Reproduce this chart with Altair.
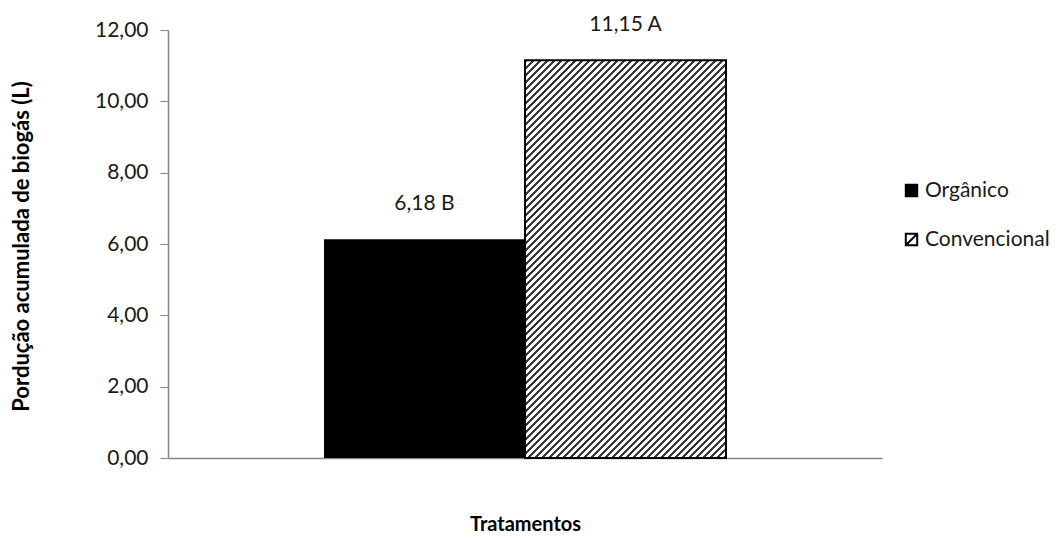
import altair as alt
import pandas as pd

# ---- data ----
grupo = "Tratamentos"
tratamentos = ["Orgânico", "Convencional"]
valores = [6.13, 11.15]
rotulos = ["6,18 B", "11,15 A"]
y_ticks = [0, 2, 4, 6, 8, 10, 12]

df = pd.DataFrame({
    "grupo": [grupo] * len(tratamentos),
    "trat": tratamentos,
    "valor": valores,
    "rotulo": rotulos,
})

# ---- layout ----
W, H = 714, 428
Y_MAX = 12
PAD_OUTER = 0.388
FONT = "Lato"
AXIS_COLOR = "#868686"
TEXT_COLOR = "#1a1a1a"

# hatch (diagonal "/" stripes) as a hard-stop linear gradient
step = W / (1 + 2 * PAD_OUTER)
bar_w = step / len(tratamentos)
bar_h = valores[1] * H / Y_MAX
k = (bar_w + bar_h) / (bar_w ** 2 + bar_h ** 2)
period = 7.0
n_per = (bar_w + bar_h) / period
frac = 0.42
stops = []
i = 0
while i < n_per:
    a = i / n_per
    b = min((i + frac) / n_per, 1)
    c = min((i + 1) / n_per, 1)
    stops += [
        {"offset": a, "color": "#3a3a3a"},
        {"offset": b, "color": "#3a3a3a"},
        {"offset": b, "color": "#ffffff"},
        {"offset": c, "color": "#ffffff"},
    ]
    i += 1
hatch = {"gradient": "linear", "x1": 0, "y1": 0, "x2": k * bar_w, "y2": k * bar_h, "stops": stops}

base = alt.Chart(df).encode(
    x=alt.X(
        "grupo:N",
        scale=alt.Scale(paddingOuter=PAD_OUTER, paddingInner=0),
        axis=alt.Axis(
            title="Tratamentos", labels=False, ticks=False, domainColor=AXIS_COLOR,
            domainWidth=1.5, titleFont=FONT, titleFontSize=20, titleFontWeight="bold",
            titleColor="black", titleBaseline="middle", titleY=66,
        ),
    ),
    xOffset=alt.XOffset("trat:N", sort=tratamentos,
                        scale=alt.Scale(domain=tratamentos, paddingInner=0, paddingOuter=0)),
    y=alt.Y(
        "valor:Q",
        scale=alt.Scale(domain=[0, Y_MAX], nice=False),
        axis=alt.Axis(
            values=y_ticks, grid=False,
            labelExpr="replace(format(datum.value, '.2f'), '.', ',')",
            labelFont=FONT, labelFontSize=21, labelColor=TEXT_COLOR, labelPadding=12,
            tickSize=8, tickColor=AXIS_COLOR, domainColor=AXIS_COLOR, domainWidth=1.5,
            title="Pordução acumulada de biogás (L)", titleFont=FONT, titleFontSize=22,
            titleFontWeight="bold", titleColor="black", titleX=-147, titleY=H / 2 + 2,
            titleBaseline="middle", titleAngle=-90,
        ),
    ),
)

org = base.transform_filter(alt.datum.trat == tratamentos[0]).mark_bar(color="black")
conv = base.transform_filter(alt.datum.trat == tratamentos[1]).mark_bar(
    fill=hatch, stroke="black", strokeWidth=2
)
txt = base.mark_text(baseline="bottom", dy=-25, font=FONT, fontSize=21, color=TEXT_COLOR).encode(
    text="rotulo:N"
)

leg = dict(
    title=None, orient="none", legendX=733, legendY=150, symbolSize=130,
    labelFont=FONT, labelFontSize=21, labelColor=TEXT_COLOR, rowPadding=27,
    symbolStrokeColor="black", symbolStrokeWidth=2, labelOffset=3, padding=0,
)
legend_layer = alt.Chart(df).transform_filter("false").mark_point(
    filled=True, strokeWidth=2, opacity=1
).encode(
    fill=alt.Fill("trat:N", sort=tratamentos,
                  scale=alt.Scale(domain=tratamentos, range=["black", "white"]),
                  legend=alt.Legend(**leg)),
    stroke=alt.Stroke("trat:N", sort=tratamentos,
                      scale=alt.Scale(domain=tratamentos, range=["black", "black"]),
                      legend=alt.Legend(**leg)),
    shape=alt.Shape("trat:N", sort=tratamentos,
                    scale=alt.Scale(domain=tratamentos,
                                    range=["square", "M-1,-1H1V1H-1Z M-1,1L1,-1"]),
                    legend=alt.Legend(**leg)),
)

chart = alt.layer(org, conv, txt, legend_layer).properties(
    width=W, height=H,
    autosize=alt.AutoSizeParams(type="none"),
    padding={"left": 160, "top": 22, "right": 170, "bottom": 80},
    background="white",
).configure_view(stroke=None)

chart.save("out.html", embed_options={"renderer": "svg", "actions": False})
